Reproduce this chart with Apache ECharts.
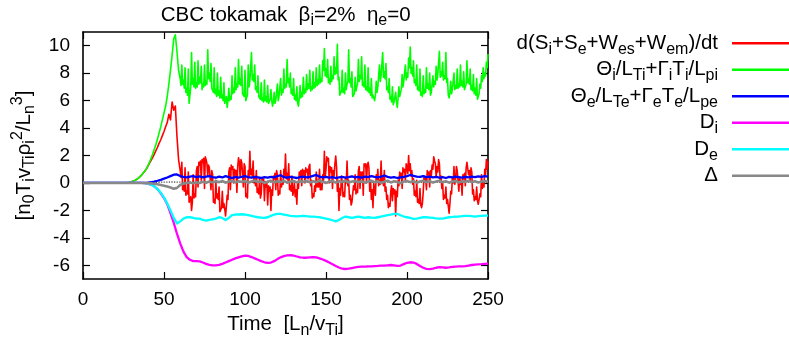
<!DOCTYPE html>
<html>
<head>
<meta charset="utf-8">
<script src="https://cdn.jsdelivr.net/npm/echarts@6/dist/echarts.min.js"></script>
<style>
  html, body { margin: 0; padding: 0; background: #fff; }
  #chart { width: 789px; height: 341px; }
</style>
</head>
<body>
<div id="chart"></div>
<script>
const FONT = '"Liberation Sans", Arial, Helvetica, sans-serif';

// Axis ticks
const timeTicks = [0, 50, 100, 150, 200, 250];
const energyTicks = [-6, -4, -2, 0, 2, 4, 6, 8, 10];

// Sampling of the stored series, in units of L_n/v_Ti
const fineStep = 1;       // dEntropyDt, ionDrive (t = 0..250)
const halfStart = 60.5;   // dEntropyDtHalf, ionDriveHalf (t = 60.5..249.5)
const coarseStep = 2;     // electronDrive, ionDissipation, electronDissipation, balanceError
const checkStep = 5;      // dissipationCheck

// d(S_i+S_e+W_es+W_em)/dt, t = 0..250
const dEntropyDt = [
  0,0,0,0,0,0,0,0,0,0,
  0,0,0,0,0,0,0,0,0,0,
  0,0,0,0,0,0,0,0,0.02,0.05,
  0.08,0.12,0.18,0.25,0.33,0.42,0.55,0.68,0.83,1.0,
  1.2,1.42,1.65,1.85,2.1,2.35,2.6,2.9,3.15,3.45,
  3.75,4.1,4.4,5.0,4.6,5.9,5.3,5.6,3.4,1.7,
  0.9,1.5,-0.2,1.1,-0.6,0.8,-1.2,-2.0,0.6,-0.8,
  0.9,-0.3,1.3,0.2,1.5,-0.4,1.7,0.5,1.1,-0.5,
  0.6,-1.2,0.2,-0.8,-0.3,-2.0,-0.6,-1.5,-2.4,-0.9,
  0.8,-0.5,1.0,0.0,0.6,-0.7,1.84,0.4,1.5,-0.3,
  1.2,-0.8,0.9,2.3,1.0,1.6,0.3,0.9,-0.4,0.4,
  -0.8,0.0,-1.3,-0.3,-1.6,-0.6,-2.0,-0.9,0.3,-0.5,
  0.6,-0.6,0.9,0.2,1.0,2.1,0.7,1.4,-0.2,0.5,
  -0.6,-1.0,-1.55,-0.4,0.5,-0.2,0.6,0.0,0.8,0.3,
  1.36,0.2,-0.8,-0.2,0.8,0.2,1.0,-0.1,0.6,2.3,
  1.0,1.6,0.0,0.8,-0.4,0.5,1.96,-0.6,-2.0,-0.9,
  0.1,-0.7,0.4,1.6,0.2,-0.9,-1.4,-0.2,0.6,-0.5,
  0.9,-0.4,0.5,-0.9,1.2,0.0,1.5,-0.6,-1.2,-1.8,
  -0.5,0.6,1.0,0.2,1.6,0.4,0.9,-0.3,-0.9,-1.5,
  -0.6,-1.3,-0.8,-2.4,-1.0,-0.2,0.4,-0.4,0.8,0.2,
  1.2,2.0,1.4,0.9,0.3,-0.6,0.2,-1.2,-0.4,-1.8,
  -0.7,0.1,-0.5,0.6,-0.3,0.5,1.0,1.6,0.4,0.8,
  1.4,0.5,0.0,-0.9,-0.3,-1.2,-2.2,-0.6,0.4,1.2,
  0.3,0.9,-0.6,-0.1,-0.9,0.3,-0.2,1.5,0.6,0.1,
  0.8,-0.5,-1.0,-0.3,-1.55,-0.8,0.6,0.0,1.0,1.7,
  1.6
];
// d(S_i+S_e+W_es+W_em)/dt, half-step samples, t = 60.5..249.5
const dEntropyDtHalf = [
  0.4,-0.5,-0.6,-0.9,-0.8,-1.4,-1.0,-1.4,-1.1,-1.0,
  1.2,1.5,1.6,1.7,1.8,1.9,1.4,1.3,1.2,0.9,
  -1.4,-1.5,-1.1,-1.2,-2.1,-1.8,-1.8,-1.9,-1.7,-1.2,
  1.1,1.3,1.2,1.0,0.9,1.2,1.5,1.7,1.6,1.4,
  -1.0,-1.1,0.4,0.6,0.5,0.0,-0.2,-0.7,-0.8,-1.1,
  0.4,0.3,0.1,0.0,-0.2,-0.3,-0.5,0.5,0.7,0.9,
  -0.9,-0.8,-0.3,-0.1,0.5,0.3,0.2,-0.5,-0.6,-0.9,
  0.0,-0.5,0.1,0.8,0.9,1.0,0.9,1.1,1.0,1.2,
  -0.2,-1.1,-1.0,-0.6,-0.3,-0.3,-0.5,-0.5,0.2,0.4,
  1.9,1.8,1.2,1.1,0.9,1.4,1.2,0.2,-0.4,0.5,
  -1.0,-1.0,0.0,-0.2,-1.2,-1.6,-1.5,-0.5,-0.8,-0.7,
  1.2,0.8,0.8,1.4,1.4,1.3,1.1,0.2,-0.5,0.0,
  -0.9,0.1,-0.2,-0.1,0.0,-0.2,-0.6,-1.2,-1.8,-1.7,
  -0.2,-0.4,-0.5,-0.6,0.2,0.8,0.7,1.1,1.0,1.4,
  0.7,0.9,0.5,-0.1,-0.9,-1.0,-1.4,-1.5,-1.6,-1.5,
  0.5,0.4,0.9,0.8,0.9,1.3,1.9,1.4,1.2,1.7,
  0.1,-0.4,-1.2,-1.1,-1.5,-1.7,-1.5,-0.8,0.0,-0.1,
  1.2,1.0,0.4,0.2,0.6,0.7,1.1,1.6,0.9,1.1,
  -0.8,-1.3,-1.2,-1.3,-1.2,-1.0,-0.4,-0.3,0.6,1.0
];

// Theta_i/L_Ti + Gamma_i T_i/L_pi, t = 0..250
const ionDrive = [
  0,0,0,0,0,0,0,0,0,0,
  0,0,0,0,0,0,0,0,0,0,
  0,0,0,0,0,0,0,0,0.02,0.05,
  0.08,0.12,0.18,0.25,0.33,0.42,0.55,0.7,0.85,1.02,
  1.25,1.5,1.8,2.1,2.45,2.8,3.2,3.65,4.1,4.6,
  5.1,5.6,6.3,7.2,8.2,9.3,10.5,10.8,9.6,8.2,
  7.6,8.6,7.5,8.4,6.9,8.3,5.9,9.5,7.6,8.8,
  7.3,8.9,7.7,8.5,7.2,8.6,7.4,9.7,8.0,8.7,
  7.0,8.4,6.8,8.0,6.7,7.7,6.4,7.3,5.9,5.5,
  6.9,6.3,7.8,6.9,8.4,7.2,9.0,7.6,8.5,6.6,
  8.2,6.1,8.6,7.4,9.5,7.9,8.6,7.0,7.8,6.4,
  7.3,6.2,7.5,6.3,7.1,5.9,6.8,5.6,6.6,6.0,
  7.2,6.3,7.6,6.8,8.3,7.2,9.0,7.6,8.0,6.8,
  7.6,6.4,7.0,5.6,7.1,6.6,7.7,6.8,7.9,7.2,
  8.2,7.0,8.1,7.3,8.4,7.5,8.6,7.6,8.9,9.8,
  8.3,9.0,7.6,8.5,7.8,9.2,8.4,10.1,7.7,6.5,
  8.2,6.9,8.0,7.2,9.7,7.6,8.1,6.2,7.7,7.0,
  9.0,7.8,9.2,7.3,8.6,7.0,8.4,6.9,7.6,6.4,
  6.0,7.4,7.0,8.6,7.8,9.5,8.1,8.7,7.0,7.6,
  6.3,7.0,5.9,6.6,5.5,7.0,6.6,7.9,7.4,8.6,
  8.0,9.1,9.9,8.4,8.9,7.5,8.6,7.0,8.3,6.6,
  7.8,6.8,8.4,7.2,8.0,6.6,7.8,7.4,8.5,7.9,
  9.6,8.1,8.8,7.8,9.5,7.6,6.2,7.4,6.8,8.0,
  7.1,8.3,7.2,8.6,7.4,8.1,7.0,8.9,7.6,8.3,
  7.1,7.9,6.9,7.6,6.0,7.2,7.8,8.4,8.0,8.8,
  9.4
];
// Theta_i/L_Ti + Gamma_i T_i/L_pi, half-step samples, t = 60.5..249.5
const ionDriveHalf = [
  7.1,7.2,6.9,6.6,6.4,5.8,7.0,7.2,7.0,6.9,
  7.0,7.2,7.3,6.8,7.0,7.1,7.2,7.6,7.4,6.9,
  6.6,6.5,6.3,6.4,6.2,6.2,6.0,5.8,6.3,6.0,
  6.0,6.1,6.5,6.6,6.8,7.0,7.2,7.1,6.5,6.3,
  6.0,6.4,7.0,7.3,7.5,7.4,6.8,6.6,6.3,6.1,
  6.0,5.9,6.0,5.9,5.8,6.1,6.0,5.9,5.8,6.1,
  6.0,6.2,6.4,6.6,6.9,7.0,7.3,7.0,6.5,6.4,
  6.1,6.0,5.8,6.2,6.2,6.3,6.5,6.6,6.8,6.9,
  6.7,6.8,6.9,7.0,7.1,7.2,7.3,7.4,8.2,7.8,
  7.7,7.3,7.2,7.4,7.6,7.9,8.0,7.5,6.4,6.7,
  6.6,6.5,6.8,7.4,7.3,7.0,6.3,6.5,6.7,7.2,
  7.4,7.6,7.1,7.0,6.8,6.7,6.6,6.4,6.2,6.3,
  6.4,6.6,7.1,7.4,7.7,7.7,7.6,6.8,6.6,6.1,
  5.9,5.7,5.8,5.9,6.2,6.3,6.8,7.0,7.3,7.5,
  7.7,8.4,8.0,7.8,7.3,7.1,6.8,6.7,6.4,6.3,
  6.5,6.6,6.9,6.8,6.4,6.5,7.0,7.2,7.5,7.8,
  7.7,7.8,7.5,7.6,7.3,6.4,6.6,6.5,6.7,6.8,
  6.9,6.9,7.0,7.1,7.0,6.8,7.2,7.3,7.2,6.8,
  6.7,6.5,6.4,6.1,6.5,6.9,7.4,7.6,7.8,8.4
];

// Theta_e/L_Te + Gamma_e T_e/L_pe, t = 0..250 step 2
const electronDrive = [
  0,0,0,0,0,0,0,0,0,0,
  0,0,0,0,0,0,0,0,0,0,
  0.02,0.05,0.1,0.16,0.23,0.31,0.4,0.5,0.6,0.62,
  0.5,0.44,0.4,0.46,0.5,0.42,0.48,0.4,0.46,0.5,
  0.42,0.38,0.46,0.4,0.5,0.42,0.36,0.44,0.38,0.45,
  0.5,0.42,0.38,0.44,0.4,0.36,0.42,0.38,0.44,0.4,
  0.5,0.56,0.42,0.38,0.44,0.4,0.36,0.42,0.46,0.4,
  0.44,0.52,0.58,0.46,0.4,0.44,0.38,0.42,0.36,0.4,
  0.44,0.38,0.42,0.48,0.4,0.44,0.38,0.46,0.42,0.5,
  0.44,0.4,0.46,0.54,0.44,0.38,0.42,0.36,0.4,0.44,
  0.5,0.58,0.52,0.46,0.44,0.5,0.42,0.46,0.4,0.44,
  0.38,0.42,0.36,0.44,0.4,0.46,0.42,0.38,0.44,0.4,
  0.46,0.42,0.48,0.44,0.5,0.46
];

// D_i, t = 0..250 step 2
const ionDissipation = [
  0,0,0,0,0,0,0,0,0,0,
  0,0,0,0,0,0,0,0,0,-0.02,
  -0.05,-0.12,-0.25,-0.45,-0.75,-1.1,-1.55,-2.2,-2.9,-3.7,
  -4.4,-5.0,-5.4,-5.6,-5.7,-5.7,-5.72,-5.8,-5.9,-5.97,
  -6.0,-6.0,-5.97,-5.9,-5.8,-5.7,-5.6,-5.5,-5.42,-5.35,
  -5.3,-5.32,-5.4,-5.5,-5.6,-5.7,-5.78,-5.82,-5.8,-5.7,
  -5.55,-5.42,-5.33,-5.28,-5.27,-5.3,-5.36,-5.42,-5.45,-5.45,
  -5.42,-5.4,-5.42,-5.5,-5.58,-5.68,-5.8,-5.92,-6.05,-6.16,
  -6.25,-6.27,-6.25,-6.2,-6.15,-6.12,-6.1,-6.1,-6.08,-6.08,
  -6.06,-6.05,-6.03,-6.02,-6.0,-5.98,-6.0,-6.04,-6.02,-5.92,
  -5.82,-5.78,-5.8,-5.9,-6.05,-6.18,-6.26,-6.28,-6.24,-6.18,
  -6.14,-6.15,-6.18,-6.16,-6.12,-6.1,-6.08,-6.08,-6.06,-6.02,
  -5.98,-5.95,-5.93,-5.92,-5.9,-5.88
];

// D_e, t = 0..250 step 2
const electronDissipation = [
  0,0,0,0,0,0,0,0,0,0,
  0,0,0,0,0,0,0,0,0,-0.02,
  -0.05,-0.12,-0.25,-0.45,-0.72,-1.05,-1.5,-2.0,-2.55,-2.95,
  -2.8,-2.6,-2.5,-2.5,-2.55,-2.6,-2.6,-2.7,-2.75,-2.7,
  -2.65,-2.6,-2.5,-2.55,-2.7,-2.55,-2.35,-2.3,-2.3,-2.28,
  -2.3,-2.35,-2.4,-2.45,-2.5,-2.52,-2.55,-2.5,-2.4,-2.3,
  -2.25,-2.25,-2.3,-2.35,-2.4,-2.42,-2.44,-2.42,-2.4,-2.42,
  -2.45,-2.45,-2.48,-2.5,-2.55,-2.6,-2.65,-2.72,-2.8,-2.7,
  -2.55,-2.45,-2.5,-2.55,-2.5,-2.45,-2.5,-2.55,-2.5,-2.52,
  -2.55,-2.5,-2.45,-2.4,-2.35,-2.3,-2.25,-2.25,-2.35,-2.45,
  -2.5,-2.55,-2.62,-2.6,-2.55,-2.5,-2.5,-2.52,-2.55,-2.58,
  -2.6,-2.6,-2.55,-2.5,-2.48,-2.45,-2.45,-2.42,-2.4,-2.4,
  -2.42,-2.45,-2.42,-2.4,-2.38,-2.38
];

// Delta (balance residual), t = 0..250 step 2
const balanceError = [
  0,0,0,0,0,0,0,0,0,0,
  0,0,0,0,0,0,0,0,0,0,
  -0.01,-0.03,-0.06,-0.1,-0.15,-0.2,-0.26,-0.33,-0.42,-0.36,
  -0.15,-0.05,0.0,0.03,-0.02,0.05,0.0,0.08,0.02,0.1,
  0.04,0.12,0.06,0.14,0.02,0.1,0.16,0.04,0.12,0.08,
  0.14,0.02,0.1,0.18,0.06,0.12,0.0,0.1,0.16,0.04,
  0.12,0.06,0.16,0.02,0.1,0.14,0.04,0.12,0.08,0.16,
  0.04,0.12,0.06,0.18,0.08,0.0,0.1,0.14,0.02,0.12,
  0.08,0.16,0.04,0.1,0.14,0.06,0.12,0.02,0.1,0.16,
  0.06,0.12,0.0,0.1,0.16,0.04,0.12,0.08,-0.02,0.1,
  0.14,0.06,0.12,0.02,0.1,0.16,0.06,0.12,0.04,0.1,
  0.16,0.06,0.12,0.02,0.1,0.14,0.04,0.12,0.08,0.16,
  0.06,0.12,0.04,0.1,0.14,0.08
];

// Unlabelled dotted reference curve, t = 0..250 step 5
const dissipationCheck = [
  0,0,0,0,0,0,0,0,0.01,0.04,
  0.06,0.07,0.06,0.05,0.05,0.06,0.05,0.04,0.05,0.06,
  0.05,0.05,0.04,0.05,0.06,0.05,0.04,0.05,0.05,0.06,
  0.05,0.04,0.05,0.06,0.05,0.05,0.04,0.05,0.06,0.05,
  0.04,0.05,0.05,0.06,0.05,0.04,0.05,0.05,0.06,0.05,
  0.05
];

const seriesNames = ['dSW', 'ionDrive', 'electronDrive', 'Di', 'De', 'Delta'];
const seriesLabels = {
  dSW: 'd(S{s|i}+S{s|e}+W{s|es}+W{s|em})/dt',
  ionDrive: '\u0398{s|i}/L{s|Ti}+\u0393{s|i}T{s|i}/L{s|pi}',
  electronDrive: '\u0398{s|e}/L{s|Te}+\u0393{s|e}T{s|e}/L{s|pe}',
  Di: 'D{s|i}',
  De: 'D{s|e}',
  Delta: '\u0394'
};
const seriesColors = ['#ff0000', '#00ff00', '#0000ff', '#ff00ff', '#00ffff', '#888888'];

// pair each stored value with its sample time
function withTime(values, step, start) {
  const t0 = start || 0;
  return values.map((v, i) => [t0 + i * step, v]);
}
// combine whole-step and half-step samples into one time-ordered list
function merged(whole, half) {
  return withTime(whole, fineStep).concat(withTime(half, fineStep, halfStart))
    .sort((a, b) => a[0] - b[0]);
}

const TICK = 19, MAIN = 20.5, SUB = 16;
const richSubSup = {
  s: { fontSize: SUB, fontFamily: FONT, color: '#000', padding: [12, 0, 0, 0] },
  p: { fontSize: SUB, fontFamily: FONT, color: '#000', padding: [0, 0, 13, 0] }
};
const zrRich = {
  s: { fontSize: SUB, fontFamily: FONT, fill: '#000', padding: [12, 0, 0, 0] }
};

const chart = echarts.init(document.getElementById('chart'), null, { renderer: 'canvas' });

function lineSeries(name, data, color, width, extra) {
  return Object.assign({
    name: name,
    type: 'line',
    data: data,
    symbol: 'none',
    showSymbol: false,
    silent: true,
    clip: true,
    animation: false,
    emphasis: { disabled: true },
    itemStyle: { color: color },
    lineStyle: { color: color, width: width, join: 'round' }
  }, extra || {});
}

const frame = { color: '#000', width: 1.6 };
const tickStyle = { color: '#000', width: 1.2 };

chart.setOption({
  animation: false,
  backgroundColor: '#fff',
  textStyle: { fontFamily: FONT },
  grid: { left: 83, right: 301, top: 32, bottom: 62, outerBoundsMode: 'none' },
  graphic: [{
    type: 'text',
    x: 285.7,
    y: 15,
    silent: true,
    style: {
      text: 'CBC tokamak  \u03b2{s|i}=2%  \u03b7{s|e}=0',
      fontSize: MAIN,
      fontFamily: FONT,
      fill: '#000',
      align: 'center',
      verticalAlign: 'middle',
      rich: zrRich
    }
  }],
  legend: {
    data: seriesNames,
    orient: 'vertical',
    align: 'right',
    right: 0,
    top: 31.3,
    padding: 0,
    itemGap: 0.5,
    itemWidth: 57,
    itemHeight: 2.4,
    icon: 'rect',
    selectedMode: false,
    itemStyle: { borderWidth: 0 },
    formatter: name => seriesLabels[name],
    textStyle: {
      fontSize: MAIN,
      fontFamily: FONT,
      color: '#000',
      lineHeight: 24,
      padding: [0, 9, 0, 0],
      rich: richSubSup
    }
  },
  xAxis: [{
    type: 'value',
    min: timeTicks[0],
    max: timeTicks[timeTicks.length - 1],
    interval: 50,
    position: 'bottom',
    axisLine: { onZero: false, lineStyle: frame },
    axisTick: { inside: true, length: 7, lineStyle: tickStyle },
    axisLabel: { color: '#000', fontSize: TICK, fontFamily: FONT, margin: 11, showMinLabel: true, showMaxLabel: true },
    splitLine: { show: false },
    name: 'Time  [L{s|n}/v{s|Ti}]',
    nameLocation: 'middle',
    nameGap: 29.5,
    nameTextStyle: { fontSize: MAIN, fontFamily: FONT, color: '#000', rich: richSubSup }
  }, {
    type: 'value',
    min: timeTicks[0],
    max: timeTicks[timeTicks.length - 1],
    interval: 50,
    position: 'top',
    axisLine: { onZero: false, lineStyle: frame },
    axisTick: { inside: true, length: 7, lineStyle: tickStyle },
    axisLabel: { show: false },
    splitLine: { show: false }
  }],
  yAxis: [{
    type: 'value',
    min: -7,
    max: 11,
    position: 'left',
    axisLine: { onZero: false, lineStyle: frame },
    axisTick: { inside: true, length: 7, lineStyle: tickStyle, customValues: energyTicks },
    axisLabel: { color: '#000', fontSize: TICK, fontFamily: FONT, margin: 13, customValues: energyTicks },
    splitLine: { show: false },
    name: '[n{s|0}T{s|i}v{s|Ti}\u03c1{s|i}{p|2}/L{s|n}{p|3}]',
    nameLocation: 'middle',
    nameRotate: 90,
    nameGap: 44.5,
    nameTextStyle: { fontSize: MAIN, fontFamily: FONT, color: '#000', rich: richSubSup }
  }, {
    type: 'value',
    min: -7,
    max: 11,
    position: 'right',
    axisLine: { onZero: false, lineStyle: frame },
    axisTick: { inside: true, length: 7, lineStyle: tickStyle, customValues: energyTicks },
    axisLabel: { show: false },
    splitLine: { show: false }
  }],
  series: [
    lineSeries('dSW', merged(dEntropyDt, dEntropyDtHalf), seriesColors[0], 1.6, { z: 2 }),
    lineSeries('ionDrive', merged(ionDrive, ionDriveHalf), seriesColors[1], 1.6, { z: 3 }),
    lineSeries('checkDotted', withTime(dissipationCheck, checkStep), '#555555', 1.3,
      { z: 3, lineStyle: { color: '#555555', width: 1.3, type: 'dotted' } }),
    lineSeries('electronDrive', withTime(electronDrive, coarseStep), seriesColors[2], 2.3, { z: 4 }),
    lineSeries('Di', withTime(ionDissipation, coarseStep), seriesColors[3], 2.3, { z: 5 }),
    lineSeries('De', withTime(electronDissipation, coarseStep), seriesColors[4], 2.3, { z: 6 }),
    lineSeries('Delta', withTime(balanceError, coarseStep), seriesColors[5], 2.6, { z: 7 })
  ]
});
</script>
</body>
</html>
